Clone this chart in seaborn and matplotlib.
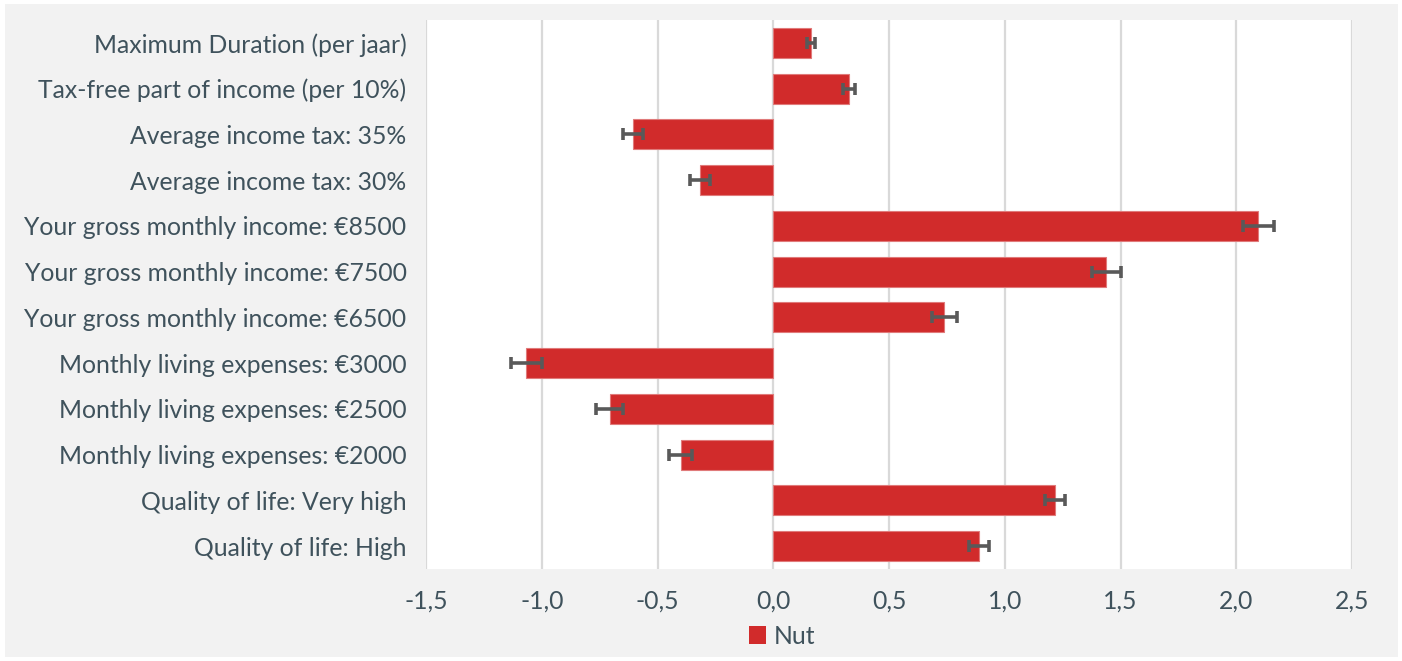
import matplotlib
matplotlib.use("Agg")
import matplotlib.pyplot as plt
import seaborn as sns
import pandas as pd
from matplotlib.patches import Patch
from matplotlib.ticker import FuncFormatter

categories = [
    "Maximum Duration (per jaar)",
    "Tax-free part of income (per 10%)",
    "Average income tax: 35%",
    "Average income tax: 30%",
    "Your gross monthly income: €8500",
    "Your gross monthly income: €7500",
    "Your gross monthly income: €6500",
    "Monthly living expenses: €3000",
    "Monthly living expenses: €2500",
    "Monthly living expenses: €2000",
    "Quality of life: Very high",
    "Quality of life: High",
]
values = [0.162, 0.328, -0.605, -0.317, 2.096, 1.438, 0.738, -1.066, -0.706, -0.400, 1.217, 0.890]
errors = [0.018, 0.027, 0.043, 0.043, 0.066, 0.062, 0.054, 0.066, 0.058, 0.050, 0.045, 0.043]
series_name = "Nut"
xticks = [-1.5, -1.0, -0.5, 0.0, 0.5, 1.0, 1.5, 2.0, 2.5]

df = pd.DataFrame({"category": categories, "value": values, "err": errors})

sns.set_theme(style="white")
plt.rcParams["font.family"] = ["Lato", "DejaVu Sans"]

TXT = "#3f525c"
RED = "#d12b2b"
FS = 17.8

fig = plt.figure(figsize=(14.02, 6.61), dpi=100, facecolor="white")
bg = fig.add_axes([5 / 1402, 4 / 661, 1393 / 1402, 653 / 661], zorder=-5)
bg.set_facecolor("#f2f2f2")
bg.set_xticks([])
bg.set_yticks([])
for s in bg.spines.values():
    s.set_visible(False)

ax = fig.add_axes([426 / 1402, 1 - 569 / 661, (1352 - 426) / 1402, (569 - 20) / 661], zorder=1)
ax.set_facecolor("white")

sns.barplot(data=df, x="value", y="category", orient="h", color=RED,
            width=0.66, edgecolor="#e07a7a", linewidth=0.8, saturation=1,
            ax=ax, zorder=3)
ax.errorbar(df["value"], range(len(df)), xerr=df["err"], fmt="none",
            ecolor="#595959", elinewidth=2.6, capsize=4.2, capthick=2.6, zorder=4)

ax.set_xlim(-1.5, 2.5)
ax.set_ylim(len(df) - 0.5, -0.5)
ax.set_xticks(xticks)
ax.xaxis.set_major_formatter(FuncFormatter(lambda v, p: f"{v:.1f}".replace(".", ",")))
ax.grid(axis="x", color="#d9d9d9", linewidth=1.6, zorder=0)
ax.set_axisbelow(True)
for s in ax.spines.values():
    s.set_visible(False)
ax.tick_params(axis="both", length=0, labelsize=FS, colors=TXT)
ax.tick_params(axis="y", pad=14)
ax.tick_params(axis="x", pad=15)
ax.set_xlabel("")
ax.set_ylabel("")

fig.legend(handles=[Patch(facecolor=RED, edgecolor="none", label=series_name)],
           loc="center", bbox_to_anchor=(782 / 1402, 1 - 636 / 661),
           frameon=False, fontsize=FS, labelcolor=TXT,
           handlelength=0.7, handleheight=0.7, handletextpad=0.3)

fig.savefig("out.png", dpi=100, facecolor=fig.get_facecolor())
